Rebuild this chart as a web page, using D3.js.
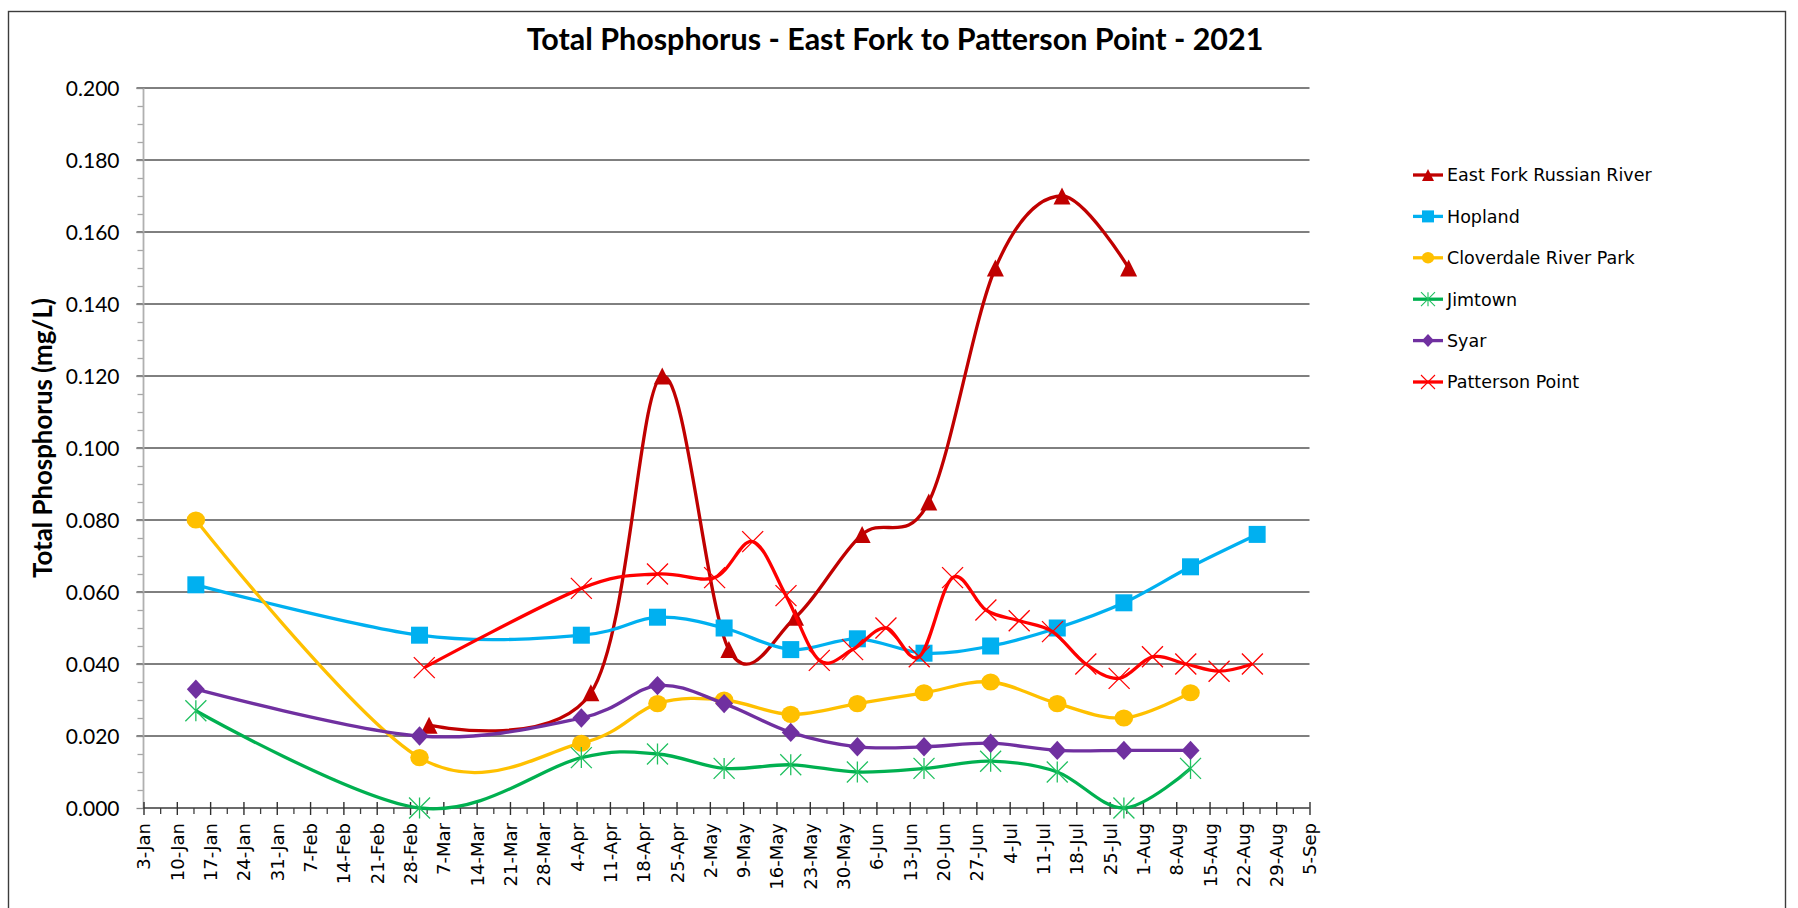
<!DOCTYPE html>
<html>
<head>
<meta charset="utf-8">
<script src="https://cdn.jsdelivr.net/npm/d3@7"></script>
<style>
  html, body { margin: 0; padding: 0; background: #ffffff; }
  svg { display: block; }
</style>
</head>
<body>
<svg id="chart" width="1798" height="908"></svg>
<script>
// ---- Data: total phosphorus (mg/L), 2021 sampling ----
const eastForkDates = ["2021-03-04","2021-04-07","2021-04-22","2021-05-06","2021-05-20","2021-06-03","2021-06-17","2021-07-01","2021-07-15","2021-07-29"];
const eastForkValues = [0.023, 0.032, 0.120, 0.044, 0.053, 0.076, 0.085, 0.150, 0.170, 0.150];

const hoplandDates = ["2021-01-14","2021-03-02","2021-04-05","2021-04-21","2021-05-05","2021-05-19","2021-06-02","2021-06-16","2021-06-30","2021-07-14","2021-07-28","2021-08-11","2021-08-25"];
const hoplandValues = [0.062, 0.048, 0.048, 0.053, 0.050, 0.044, 0.047, 0.043, 0.045, 0.050, 0.057, 0.067, 0.076];

const siteDates = ["2021-01-14","2021-03-02","2021-04-05","2021-04-21","2021-05-05","2021-05-19","2021-06-02","2021-06-16","2021-06-30","2021-07-14","2021-07-28","2021-08-11"];
const cloverdaleValues = [0.080, 0.014, 0.018, 0.029, 0.030, 0.026, 0.029, 0.032, 0.035, 0.029, 0.025, 0.032];
const jimtownValues    = [0.027, 0.000, 0.014, 0.015, 0.011, 0.012, 0.010, 0.011, 0.013, 0.010, 0.000, 0.011];
const syarValues       = [0.033, 0.020, 0.025, 0.034, 0.029, 0.021, 0.017, 0.017, 0.018, 0.016, 0.016, 0.016];

const pattersonDates = ["2021-03-03","2021-04-05","2021-04-21","2021-05-03","2021-05-11","2021-05-18","2021-05-25","2021-06-01","2021-06-08","2021-06-15","2021-06-22","2021-06-29","2021-07-06","2021-07-13","2021-07-20","2021-07-27","2021-08-03","2021-08-10","2021-08-17","2021-08-24"];
const pattersonValues = [0.039, 0.061, 0.065, 0.064, 0.074, 0.059, 0.041, 0.044, 0.050, 0.042, 0.064, 0.055, 0.052, 0.049, 0.040, 0.036, 0.042, 0.040, 0.038, 0.040];

const seriesNames = ["East Fork Russian River", "Hopland", "Cloverdale River Park", "Jimtown", "Syar", "Patterson Point"];

// ---- Axis ticks ----
const xTickLabels = ["3-Jan","10-Jan","17-Jan","24-Jan","31-Jan","7-Feb","14-Feb","21-Feb","28-Feb","7-Mar","14-Mar","21-Mar","28-Mar","4-Apr","11-Apr","18-Apr","25-Apr","2-May","9-May","16-May","23-May","30-May","6-Jun","13-Jun","20-Jun","27-Jun","4-Jul","11-Jul","18-Jul","25-Jul","1-Aug","8-Aug","15-Aug","22-Aug","29-Aug","5-Sep"];
const yTicks = [0.000, 0.020, 0.040, 0.060, 0.080, 0.100, 0.120, 0.140, 0.160, 0.180, 0.200];
const yMinorStep = 0.005;

const titleText = "Total Phosphorus - East Fork to Patterson Point - 2021";
const yTitleText = "Total Phosphorus (mg/L)";

// ---- Setup ----
const parseISO = d3.utcParse("%Y-%m-%d");
const parseTick = d3.utcParse("%d-%b-%Y");
const tickDates = xTickLabels.map(s => parseTick(s + "-2021"));

const svg = d3.select("#chart");
const plot = { left: 143.5, right: 1309.5, top: 88, bottom: 808 };

const x = d3.scaleUtc()
  .domain([tickDates[0], tickDates[tickDates.length - 1]])
  .range([plot.left, plot.right]);
const y = d3.scaleLinear().domain([0, 0.2]).range([plot.bottom, plot.top]);

const series = [
  { name: seriesNames[0], dates: eastForkDates, values: eastForkValues, color: "#C00000", marker: "triangle" },
  { name: seriesNames[1], dates: hoplandDates, values: hoplandValues, color: "#00B0F0", marker: "square" },
  { name: seriesNames[2], dates: siteDates, values: cloverdaleValues, color: "#FFC000", marker: "circle" },
  { name: seriesNames[3], dates: siteDates, values: jimtownValues, color: "#00B050", marker: "star" },
  { name: seriesNames[4], dates: siteDates, values: syarValues, color: "#7030A0", marker: "diamond" },
  { name: seriesNames[5], dates: pattersonDates, values: pattersonValues, color: "#FF0000", marker: "x" }
].map(s => ({ ...s, points: s.dates.map((d, i) => ({ date: parseISO(d), value: s.values[i] })) }));

// Outer chart frame
svg.append("rect")
  .attr("x", 8.5).attr("y", 11.5)
  .attr("width", 1777).attr("height", 1000)
  .attr("fill", "#ffffff")
  .attr("stroke", "#3c3c3c").attr("stroke-width", 1.4);

// ---- Gridlines ----
svg.append("g").selectAll("line")
  .data(yTicks.filter(v => v > 0))
  .join("line")
  .attr("x1", plot.left - 7).attr("x2", plot.right)
  .attr("y1", d => y(d)).attr("y2", d => y(d))
  .attr("stroke", "#000000").attr("stroke-width", 1);

// ---- Y axis ----
const minorY = d3.range(0, 0.2 + 1e-9, yMinorStep).filter(v => Math.abs(v / 0.02 - Math.round(v / 0.02)) > 1e-6);
const yAxisMinor = d3.axisLeft(y).tickValues(minorY).tickSize(6).tickFormat("");
const yAxisMajor = d3.axisLeft(y).tickValues(yTicks).tickSize(7).tickPadding(17).tickFormat(d3.format(".3f"));

const gyMinor = svg.append("g").attr("transform", `translate(${plot.left},0)`).call(yAxisMinor);
gyMinor.select(".domain").remove();
gyMinor.selectAll(".tick line").attr("stroke", "#a6a6a6").attr("stroke-width", 1.3);

const gy = svg.append("g").attr("transform", `translate(${plot.left},0)`).call(yAxisMajor);
gy.select(".domain").attr("stroke", "#b0b0b0").attr("stroke-width", 1.8)
  .attr("d", `M0,${plot.top}V${plot.bottom}`);
gy.selectAll(".tick line").attr("stroke", "#8a8a8a").attr("stroke-width", 1.3);
gy.selectAll(".tick text")
  .attr("font-family", "Lato, 'Open Sans', sans-serif")
  .attr("font-size", 21)
  .attr("fill", "#000")
  .attr("dy", "0.36em");

// ---- X axis ----
const minorX = tickDates.slice(0, -1).map(d => new Date(d.getTime() + 3.5 * 864e5));
const xAxisMinor = d3.axisBottom(x).tickValues(minorX).tickSize(6).tickFormat("");
const xAxisMajor = d3.axisBottom(x).tickValues(tickDates).tickSize(7).tickFormat((d, i) => xTickLabels[i]);

const gxMinor = svg.append("g").attr("transform", `translate(0,${plot.bottom})`).call(xAxisMinor);
gxMinor.select(".domain").remove();
gxMinor.selectAll(".tick line").attr("stroke", "#404040").attr("stroke-width", 1.3);

const gx = svg.append("g").attr("transform", `translate(0,${plot.bottom})`).call(xAxisMajor);
gx.select(".domain").attr("stroke", "#3a3a3a").attr("stroke-width", 1.6)
  .attr("d", `M${plot.left},0H${plot.right}`);
gx.selectAll(".tick line").attr("stroke", "#303030").attr("stroke-width", 1.4).attr("y1", -6);
gx.selectAll(".tick text")
  .attr("font-family", "'DejaVu Sans', Verdana, sans-serif")
  .attr("font-size", 18)
  .attr("fill", "#000")
  .attr("text-anchor", "end")
  .attr("transform", "translate(0,15) rotate(-90)")
  .attr("x", 0).attr("y", 0)
  .attr("dy", "0.36em");

// ---- Markers ----
function drawMarker(g, type, size, color) {
  const h = size / 2;
  if (type === "triangle") {
    g.append("path").attr("d", `M0,${-h}L${h},${h}L${-h},${h}Z`).attr("fill", color);
  } else if (type === "square") {
    g.append("rect").attr("x", -h).attr("y", -h).attr("width", size).attr("height", size).attr("fill", color);
  } else if (type === "circle") {
    g.append("ellipse").attr("rx", h * 1.03).attr("ry", h * 0.95).attr("fill", color);
  } else if (type === "diamond") {
    g.append("path").attr("d", `M0,${-h * 1.08}L${h},0L0,${h * 1.08}L${-h},0Z`).attr("fill", color);
  } else if (type === "x" || type === "star") {
    const sw = size > 14 ? 1.3 : 1.1;
    g.append("path")
      .attr("d", `M${-h},${-h}L${h},${h}M${-h},${h}L${h},${-h}` + (type === "star" ? `M0,${-h}L0,${h}` : ""))
      .attr("stroke", type === "star" ? "#20c060" : color)
      .attr("stroke-width", sw).attr("fill", "none");
  }
}

const markerSize = { triangle: 17, square: 17, circle: 18, diamond: 18, x: 21, star: 21 };

// ---- Series lines (smoothed) and markers ----
const line = d3.line()
  .x(d => x(d.date))
  .y(d => y(d.value))
  .curve(d3.curveCatmullRom.alpha(0));

const seriesG = svg.append("g");
series.forEach(s => {
  const g = seriesG.append("g");
  g.append("path")
    .datum(s.points)
    .attr("d", line)
    .attr("fill", "none")
    .attr("stroke", s.color)
    .attr("stroke-width", 3.3)
    .attr("stroke-linejoin", "round");
  g.selectAll("g.m")
    .data(s.points)
    .join("g")
    .attr("class", "m")
    .attr("transform", d => `translate(${x(d.date)},${y(d.value)})`)
    .each(function () { drawMarker(d3.select(this), s.marker, markerSize[s.marker], s.color); });
});

// ---- Legend ----
const legend = svg.append("g").attr("transform", "translate(1413,175)");
series.forEach((s, i) => {
  const row = legend.append("g").attr("transform", `translate(0,${i * 41.4})`);
  row.append("line").attr("x1", 0).attr("x2", 30).attr("y1", 0).attr("y2", 0)
    .attr("stroke", s.color).attr("stroke-width", 3.3);
  const m = row.append("g").attr("transform", "translate(15,0)");
  drawMarker(m, s.marker, s.marker === "x" || s.marker === "star" ? 14 : 12, s.color);
  row.append("text")
    .attr("x", 34).attr("y", 0).attr("dy", "0.36em")
    .attr("font-family", "'DejaVu Sans', Verdana, sans-serif")
    .attr("font-size", 17.5)
    .attr("fill", "#000")
    .text(s.name);
});

// ---- Titles ----
function fitText(sel, target) {
  const fs = parseFloat(sel.attr("font-size"));
  const len = sel.node().getComputedTextLength();
  sel.attr("font-size", fs * target / len);
}

const title = svg.append("text")
  .attr("x", 895).attr("y", 50)
  .attr("text-anchor", "middle")
  .attr("font-family", "Lato, 'Open Sans', sans-serif")
  .attr("font-weight", "bold")
  .attr("font-size", 27)
  .attr("fill", "#000")
  .text(titleText);
fitText(title, 737);

const yTitle = svg.append("text")
  .attr("transform", "translate(52,438) rotate(-90)")
  .attr("text-anchor", "middle")
  .attr("font-family", "Lato, 'Open Sans', sans-serif")
  .attr("font-weight", "bold")
  .attr("font-size", 24)
  .attr("fill", "#000")
  .text(yTitleText);
fitText(yTitle, 280);
</script>
</body>
</html>
